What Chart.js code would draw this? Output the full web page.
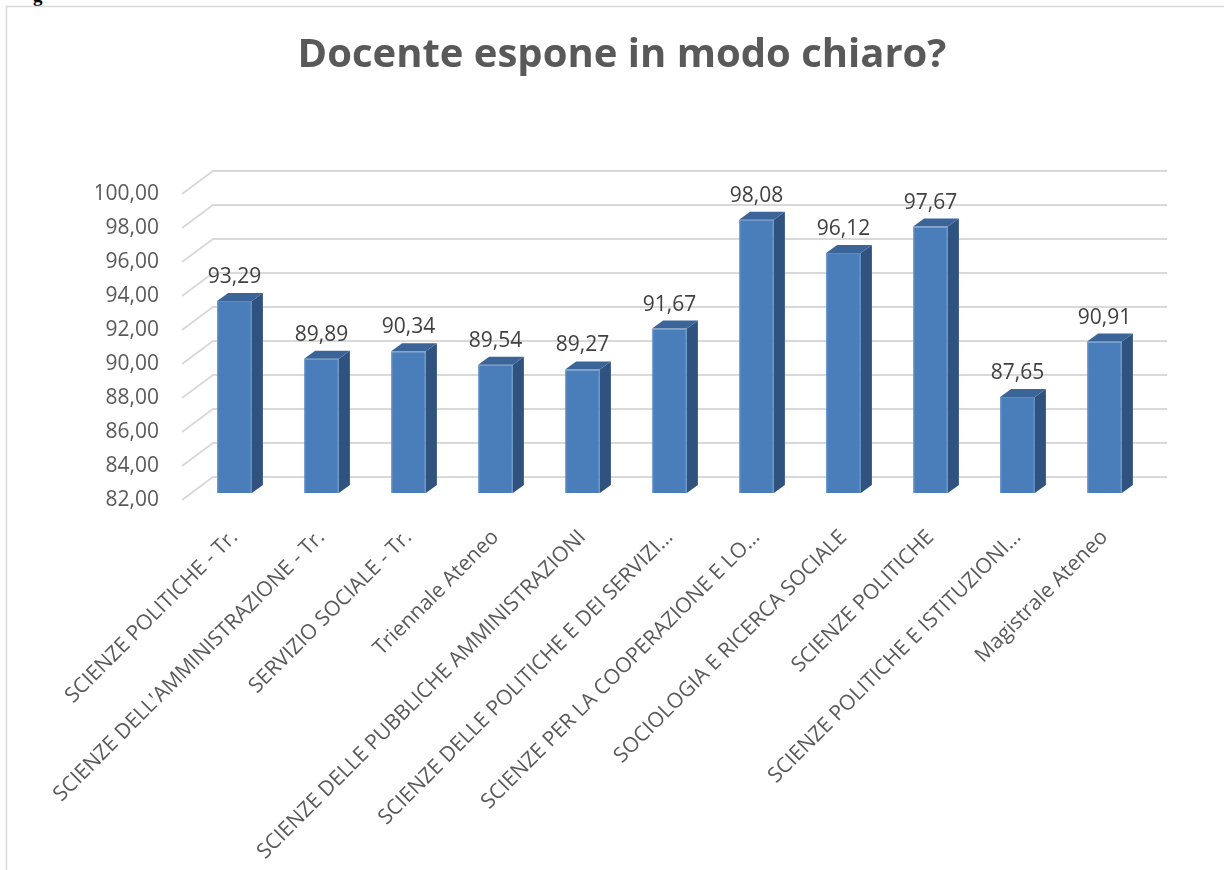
<!DOCTYPE html>
<html>
<head>
<meta charset="utf-8">
<script src="https://cdn.jsdelivr.net/npm/chart.js@4.4.1/dist/chart.umd.min.js"></script>
<style>
  html, body { margin: 0; padding: 0; background: #fff; overflow: hidden; }
  #wrap { position: absolute; left: 0; top: 0; width: 1244px; height: 870px; }
  #frag { position: absolute; left: 33px; top: -15px; font: bold 19px "Liberation Serif"; color: #000; }
</style>
</head>
<body>
<div id="frag">g</div>
<div id="wrap"><canvas id="chart" width="1244" height="870"></canvas></div>
<script>
/* ── Data ── */
const categories = [
  'SCIENZE POLITICHE - Tr.',
  "SCIENZE DELL'AMMINISTRAZIONE - Tr.",
  'SERVIZIO SOCIALE - Tr.',
  'Triennale Ateneo',
  'SCIENZE DELLE PUBBLICHE AMMINISTRAZIONI',
  'SCIENZE DELLE POLITICHE E DEI SERVIZI…',
  'SCIENZE PER LA COOPERAZIONE E LO…',
  'SOCIOLOGIA E RICERCA SOCIALE',
  'SCIENZE POLITICHE',
  'SCIENZE POLITICHE E ISTITUZIONI…',
  'Magistrale Ateneo'
];
const values = [93.29, 89.89, 90.34, 89.54, 89.27, 91.67, 98.08, 96.12, 97.67, 87.65, 90.91];
const yTickValues = [82, 84, 86, 88, 90, 92, 94, 96, 98, 100];

const fmt = v => Number(v).toFixed(2).replace('.', ',');

const TEXT = '#595959';
const GRID = '#d9d9d9';
const FRONT = '#4a7ebb';
const SIDE = '#30527e';
const TOP = '#3b6599';

/* ── Frame + 3D walls grid ── */
const wallGrid = {
  id: 'wallGrid',
  beforeDraw(chart) {
    const ctx = chart.ctx;
    ctx.save();
    ctx.strokeStyle = GRID;
    ctx.lineWidth = 1.5;
    ctx.beginPath();
    ctx.moveTo(6.5, 870);
    ctx.lineTo(6.5, 6.5);
    ctx.lineTo(1244, 6.5);
    ctx.stroke();
    ctx.restore();
  },
  beforeDatasetsDraw(chart) {
    const { ctx, chartArea, scales } = chart;
    ctx.save();
    ctx.strokeStyle = GRID;
    ctx.lineWidth = 2;
    yTickValues.forEach(v => {
      const y = scales.y.getPixelForValue(v);
      ctx.beginPath();
      ctx.moveTo(chartArea.left - 9, y + 7);
      ctx.lineTo(chartArea.left + 22, y - 16);
      ctx.lineTo(chartArea.right + 19, y - 16);
      ctx.stroke();
    });
    ctx.restore();
  }
};

/* ── 3D bar faces + value labels ── */
const bar3d = {
  id: 'bar3d',
  afterDatasetsDraw(chart) {
    const ctx = chart.ctx;
    const meta = chart.getDatasetMeta(0);
    const floor = chart.scales.y.getPixelForValue(chart.scales.y.min);
    const dx = 11, dy = -8;
    ctx.save();
    meta.data.forEach((bar, i) => {
      const p = bar.getProps(['x', 'y', 'width'], true);
      const l = p.x - p.width / 2, r = p.x + p.width / 2;
      ctx.fillStyle = SIDE;
      ctx.beginPath();
      ctx.moveTo(r, p.y);
      ctx.lineTo(r + dx, p.y + dy);
      ctx.lineTo(r + dx, floor + dy);
      ctx.lineTo(r, floor);
      ctx.closePath();
      ctx.fill();
      ctx.fillStyle = TOP;
      ctx.beginPath();
      ctx.moveTo(l, p.y);
      ctx.lineTo(l + dx, p.y + dy);
      ctx.lineTo(r + dx, p.y + dy);
      ctx.lineTo(r, p.y);
      ctx.closePath();
      ctx.fill();

      ctx.fillStyle = '#404040';
      ctx.font = '21px "Open Sans"';
      ctx.textAlign = 'center';
      ctx.textBaseline = 'alphabetic';
      ctx.fillText(fmt(values[i]), p.x, p.y - 18);
    });
    ctx.restore();
  }
};

new Chart(document.getElementById('chart'), {
  type: 'bar',
  data: {
    labels: categories,
    datasets: [{
      data: values,
      backgroundColor: FRONT,
      borderColor: '#5a8cc8',
      borderWidth: 1,
      barPercentage: 0.4,
      categoryPercentage: 1
    }]
  },
  options: {
    responsive: false,
    animation: false,
    layout: { padding: { left: 96, right: 96, top: 0, bottom: 0 } },
    plugins: {
      legend: { display: false },
      tooltip: { enabled: false },
      title: {
        display: true,
        text: 'Docente espone in modo chiaro?',
        color: TEXT,
        font: { family: 'Open Sans', size: 40, weight: 'bold' },
        padding: { top: 32, bottom: 107 }
      }
    },
    scales: {
      x: {
        grid: { display: false, drawTicks: false },
        border: { display: false },
        ticks: {
          color: TEXT,
          font: { family: 'Open Sans', size: 21 },
          minRotation: 45,
          maxRotation: 45,
          autoSkip: false,
          padding: 32
        },
        afterFit(scale) { scale.height = 377; }
      },
      y: {
        min: 82,
        max: 100,
        grid: { display: false, drawTicks: false },
        border: { display: false },
        afterBuildTicks(scale) { scale.ticks = yTickValues.map(v => ({ value: v })); },
        ticks: {
          color: TEXT,
          font: { family: 'Open Sans', size: 21 },
          padding: 32,
          labelOffset: 7,
          callback: v => fmt(v)
        },
        afterFit(scale) { scale.width = 95; }
      }
    }
  },
  plugins: [wallGrid, bar3d]
});
</script>
</body>
</html>
